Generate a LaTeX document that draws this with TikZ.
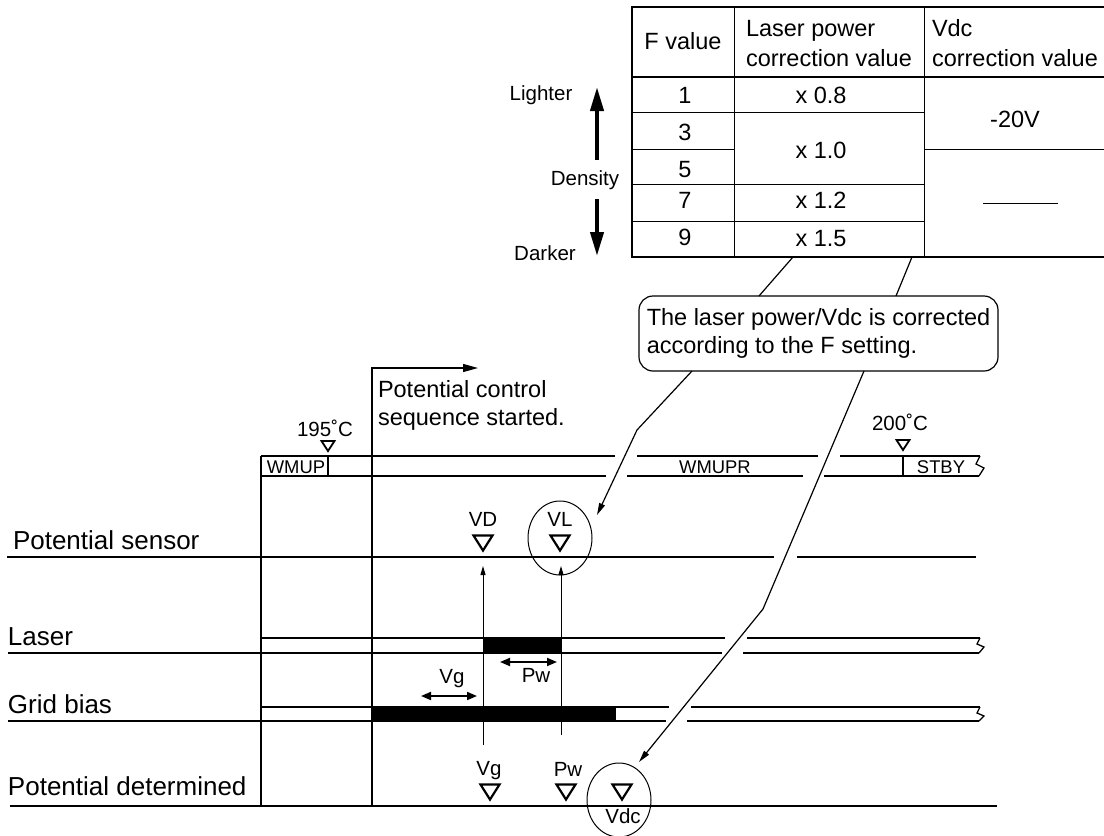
\documentclass[tikz,border=0pt]{standalone}
\usepackage{fontspec}
\setmainfont{Liberation Sans}
\usetikzlibrary{arrows.meta,shapes.geometric}
\begin{document}
\begin{tikzpicture}[x=1pt,y=-1pt,
  every node/.style={inner sep=0pt, outer sep=0pt},
  rowlbl/.style={font=\fontsize{26}{30}\selectfont, anchor=base west},
  tbl/.style={font=\fontsize{23.5}{28}\selectfont, anchor=base},
  tbll/.style={font=\fontsize{23.5}{28}\selectfont, anchor=base west},
  sml/.style={font=\fontsize{20.5}{24}\selectfont, anchor=base},
  barlbl/.style={font=\fontsize{18.4}{22}\selectfont, anchor=base},
  hair/.style={line width=1pt},
  tline/.style={line width=1.3pt},
  border/.style={line width=2.6pt},
  ptr/.style={line width=1.2pt},
  ring/.style={draw, ellipse, line width=1pt, minimum width=64pt, minimum height=74pt},
  callout/.style={draw, rounded corners=14pt, line width=1.2pt, minimum width=359pt, minimum height=75pt,
    align=left, font=\fontsize{23.5}{28}\selectfont},
  dtri/.pic={\draw[line width=2.2pt, line join=miter] (-9.5,-7.5) -- (9.5,-7.5) -- (0,7.5) -- cycle;},
  stri/.pic={\draw[line width=1.8pt, line join=miter] (-6.5,-5) -- (6.5,-5) -- (0,5) -- cycle;},
  bigarrow/.style={line width=4pt, -{Triangle[width=13pt,length=24pt]}},
  dblarrow/.style={line width=1.8pt, {Triangle[width=8pt,length=10pt]}-{Triangle[width=8pt,length=10pt]}},
  uparrow/.style={hair, -{Triangle[width=5pt,length=9pt]}},
  ptrarrow/.style={ptr, -{Triangle[width=6pt,length=12pt]}}
]
\useasboundingbox (0,0) rectangle (1104,836);

% ---------------- table ----------------
\draw[border] (1104,7) -- (632,7) -- (632,257) -- (1104,257);
\draw[border] (632,77) -- (1104,77);
\draw[hair] (734,7) -- (734,257);
\draw[hair] (924,7) -- (924,257);
\draw[hair] (632,112) -- (924,112);
\draw[hair] (632,149) -- (734,149);
\draw[hair] (924,149) -- (1104,149);
\draw[hair] (632,184) -- (924,184);
\draw[hair] (632,221) -- (924,221);
\draw[hair] (983,203) -- (1058,203);

\node[tbl] (hF) at (683,49) {F value};
\node[tbll] (hL1) at (746,36) {Laser power};
\node[tbll] (hL2) at (746,66) {correction value};
\node[tbll] (hV1) at (932,36) {Vdc};
\node[tbll] (hV2) at (932,66) {correction value};
\node[tbl] (f1) at (685,103) {1};
\node[tbl] (f3) at (685,140) {3};
\node[tbl] (f5) at (685,177) {5};
\node[tbl] (f7) at (685,208) {7};
\node[tbl] (f9) at (685,245) {9};
\node[tbl] (l1) at (821,103) {x 0.8};
\node[tbl] (l3) at (821,158) {x 1.0};
\node[tbl] (l7) at (821,208) {x 1.2};
\node[tbl] (l9) at (821,246) {x 1.5};
\node[tbl] (v1) at (1015,127) {-20V};

% density arrows
\node[sml] (lighter) at (541,100) {Lighter};
\node[sml] (density) at (585,185) {Density};
\node[sml] (darker) at (545,260) {Darker};
\coordinate (upS) at (597,160);
\coordinate (upT) at (597,87);
\coordinate (dnS) at (597,199);
\coordinate (dnT) at (597,256);
\draw[bigarrow] (upS) -- (upT);
\draw[bigarrow] (dnS) -- (dnT);

% ---------------- callout ----------------
\node[callout] (callout) at (818.5,333.5) {The laser power/Vdc is corrected\\according to the F setting.};
\coordinate (tA) at (793,257);
\coordinate (cA) at (759,296);
\coordinate (tB) at (912,257);
\coordinate (cB) at (896,296);
\draw[ptr] (tA) -- (cA);
\draw[ptr] (tB) -- (cB);

% ---------------- timing chart ----------------
\draw[tline] (261,456) -- (261,807);
\coordinate (pcBot) at (372,806);
\coordinate (pcTop) at (372,368);
\coordinate (pcEnd) at (478,368);
\draw[tline, -{Triangle[width=8pt,length=15pt]}] (pcBot) -- (pcTop) -- (pcEnd);
\node[anchor=north west, align=left, font=\fontsize{23.5}{28}\selectfont] (pcs) at (378,380)
  {Potential control\\sequence started.};

% top status bar
\draw[tline] (261,456) -- (615,456);
\draw[tline] (637,456) -- (818,456);
\draw[tline] (840,456) -- (980,456);
\draw[tline] (261,476) -- (606,476);
\draw[tline] (627,476) -- (803,476);
\draw[tline] (824,476) -- (979,476);
\draw[tline] (980,456) -- (976,464) -- (984,468) -- (979,476);
\draw[tline] (328,456) -- (328,476);
\draw[tline] (903,456) -- (903,476);
\node[barlbl] (wmup) at (296,473) {WMUP};
\node[barlbl] (wmupr) at (715,473) {WMUPR};
\node[barlbl] (stby) at (941,473) {STBY};
\node[sml] (t195) at (325,436) {195˚C};
\node[sml] (t200) at (900,430) {200˚C};
\pic at (328,446) {stri};
\pic at (903,445) {stri};

% row labels
\node[rowlbl] (rPS) at (13,549) {Potential sensor};
\node[rowlbl] (rLa) at (8,645) {Laser};
\node[rowlbl] (rGb) at (8,713) {Grid bias};
\node[rowlbl] (rPD) at (8,795) {Potential determined};

% potential sensor row
\draw[tline] (7,557) -- (774,557);
\draw[tline] (797,557) -- (976,557);
\node[sml] (vD) at (483,526) {VD};
\node[sml] (vL) at (560,526) {VL};
\pic at (483,543) {dtri};
\pic at (560,543) {dtri};
\node[ring] (vlring) at (560,538) {};

% laser row
\fill (483,638) rectangle (561,653);
\draw[tline] (261,638) -- (725,638);
\draw[tline] (747,638) -- (980,638);
\draw[tline] (8,653) -- (722,653);
\draw[tline] (743,653) -- (979,653);
\draw[tline] (980,638) -- (977,644) -- (984,647) -- (979,653);
\draw[dblarrow] (500,662) -- (557,662);
\node[sml] (pwA) at (536,682) {Pw};

% grid bias row
\fill (372,707) rectangle (616,721);
\draw[tline] (261,707) -- (669,707);
\draw[tline] (691,707) -- (980,707);
\draw[tline] (8,721) -- (666,721);
\draw[tline] (687,721) -- (979,721);
\draw[tline] (980,707) -- (977,713) -- (984,716) -- (979,721);
\draw[dblarrow] (421,696) -- (477,696);
\node[sml] (vgA) at (452,683) {Vg};

% measurement arrows
\coordinate (mA) at (483,745);
\coordinate (mAt) at (483,566);
\coordinate (mB) at (561,735);
\coordinate (mBt) at (561,566);
\draw[uparrow] (mA) -- (mAt);
\draw[uparrow] (mB) -- (mBt);

% potential determined row
\draw[tline] (10,806) -- (997,806);
\node[sml] (vgB) at (489,775) {Vg};
\node[sml] (pwB) at (568,776) {Pw};
\node[sml] (vdc) at (623,823) {Vdc};
\pic at (490,792) {dtri};
\pic at (566,792) {dtri};
\pic at (622,792) {dtri};
\node[ring] (vdcring) at (619,800) {};

% pointers from the callout
\coordinate (cC) at (692,371);
\coordinate (bendA) at (637,430);
\coordinate (tipA) at (597,515);
\coordinate (cD) at (864,371);
\coordinate (bendB) at (763,609);
\coordinate (tipB) at (639,762);
\draw[ptrarrow] (cC) -- (bendA) -- (tipA);
\draw[ptrarrow] (cD) -- (bendB) -- (tipB);
\end{tikzpicture}
\end{document}
